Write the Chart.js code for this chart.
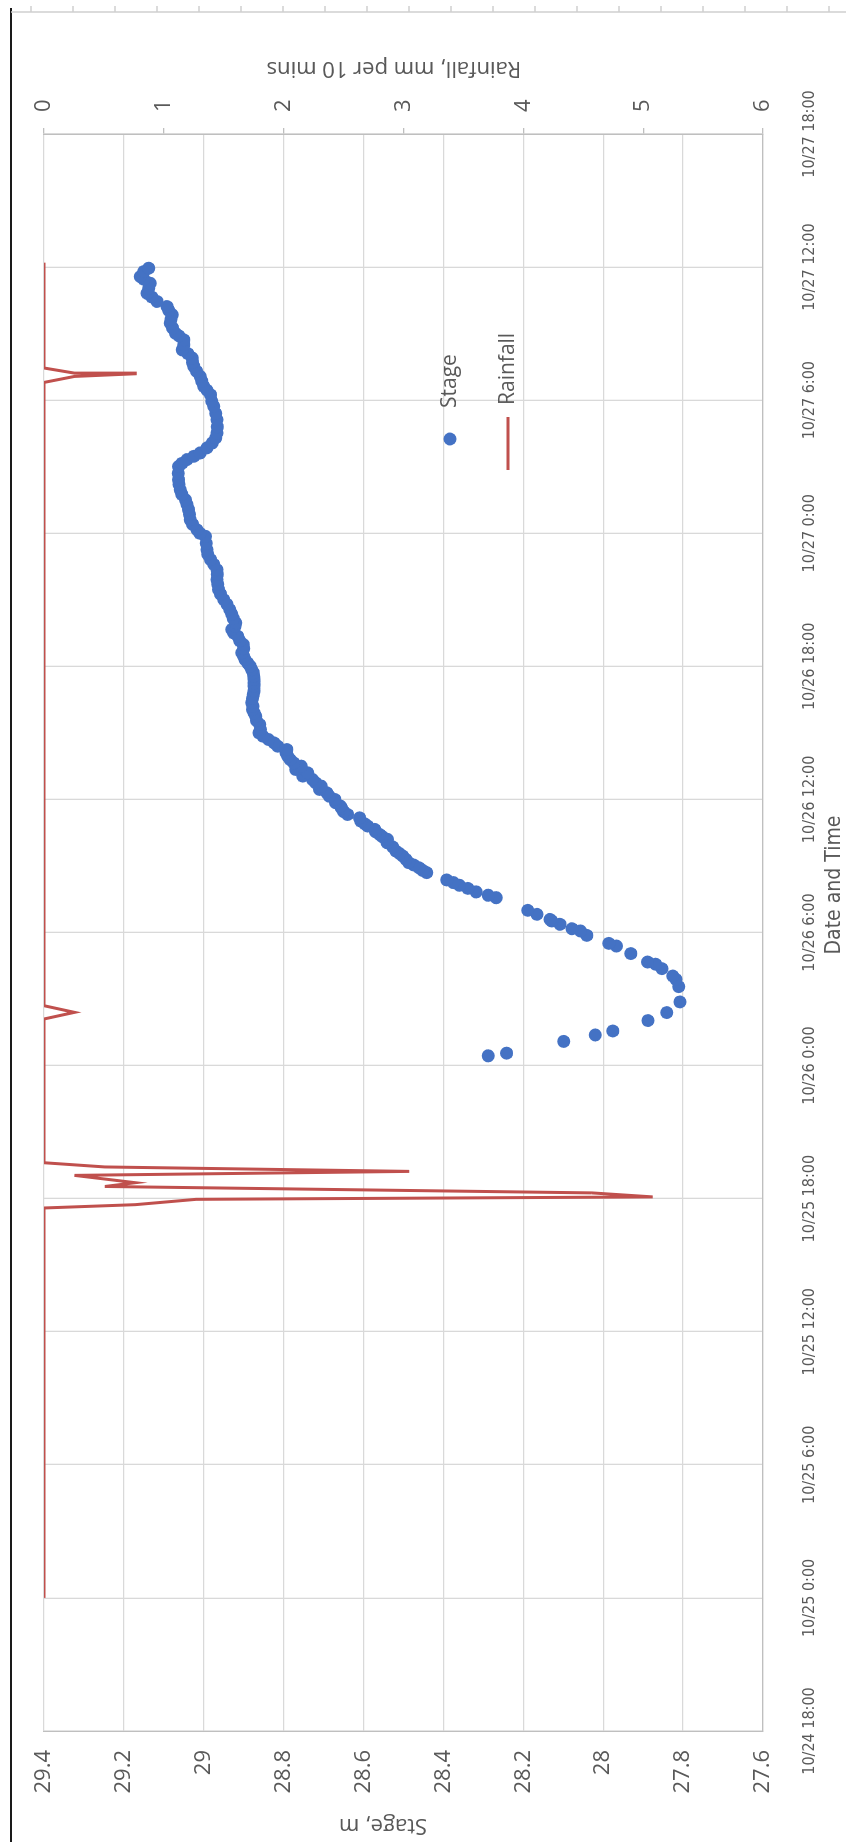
<!DOCTYPE html>
<html>
<head>
<meta charset="utf-8">
<title>Stage and Rainfall</title>
<script src="https://cdn.jsdelivr.net/npm/chart.js@4.4.1/dist/chart.umd.min.js"></script>
<style>
  html, body { margin: 0; padding: 0; background: #fff; }
  #page { position: relative; width: 846px; height: 1842px; overflow: hidden; background: #fff; }
  /* the chart is laid out landscape and turned a quarter turn to portrait */
  #turn { position: absolute; left: 0; top: 0; width: 1842px; height: 846px;
          transform-origin: 0 0; transform: translate(0, 1842px) rotate(-90deg); }
  canvas { display: block; }
</style>
</head>
<body>
<div id="page"><div id="turn"><canvas id="chart" width="1842" height="846"></canvas></div></div>
<script>
// Time axis labels, one every 6 hours
const dateTickLabels = ['10/24 18:00', '10/25 0:00', '10/25 6:00', '10/25 12:00', '10/25 18:00',
  '10/26 0:00', '10/26 6:00', '10/26 12:00', '10/26 18:00', '10/27 0:00', '10/27 6:00',
  '10/27 12:00', '10/27 18:00'];
const stageTickLabels = ['27.6', '27.8', '28', '28.2', '28.4', '28.6', '28.8', '29', '29.2', '29.4'];
const rainTickLabels = ['0', '1', '2', '3', '4', '5', '6'];

// Stage record: time in hours after 10/24 18:00, level in m
const stageTime = [30.44, 30.56, 31.09, 31.38, 31.56, 32.03, 32.39, 32.87, 33.56, 33.89, 34.04, 34.37,
  34.57, 34.67, 35.05, 35.39, 35.51, 35.87, 36.07, 36.17, 36.37, 36.52, 36.59, 36.82, 37.00, 37.57,
  37.68, 37.83, 37.99, 38.13, 38.25, 38.37, 38.70, 38.80, 38.92, 39.04, 39.15, 39.30, 39.45, 39.56,
  39.67, 39.86, 40.05, 40.20, 40.32, 40.42, 40.54, 40.65, 40.80, 40.90, 41.02, 41.17, 41.32, 41.45,
  41.60, 41.70, 41.85, 42.00, 42.15, 42.30, 42.45, 42.60, 42.75, 42.90, 43.05, 43.20, 43.35, 43.50,
  43.65, 43.80, 43.95, 44.10, 44.25, 44.40, 44.55, 44.70, 44.85, 45.00, 45.15, 45.38, 45.55, 45.75,
  45.90, 46.05, 46.20, 46.36, 46.55, 46.73, 46.90, 47.11, 47.25, 47.41, 47.55, 47.71, 47.85, 48.01,
  48.15, 48.31, 48.45, 48.61, 48.80, 48.98, 49.15, 49.36, 49.50, 49.66, 49.80, 49.96, 50.15, 50.35,
  50.56, 50.80, 51.01, 51.25, 51.46, 51.70, 51.91, 52.15, 52.36, 52.60, 52.81, 53.05, 53.26, 53.55,
  53.86, 54.00, 54.16, 54.40, 54.61, 54.85, 55.06, 55.30, 55.51, 55.75, 55.96, 56.20, 56.41, 56.70,
  57.01, 57.15, 57.32, 57.47, 57.62, 57.85, 58.07, 58.30, 58.52, 58.80, 59.12, 59.40, 59.72, 59.95,
  60.24, 60.45, 60.62, 60.85, 61.07, 61.30, 61.52, 61.70, 61.90, 62.10, 62.27, 62.50, 62.72, 62.90,
  63.02, 63.25, 63.47, 63.65, 63.85, 64.05, 64.22, 64.45, 64.65, 64.82, 65.05, 65.27, 65.45, 65.57,
  65.80, 65.95];
const stageLevel = [28.288, 28.242, 28.099, 28.020, 27.976, 27.888, 27.841, 27.808, 27.811, 27.818, 27.826, 27.853,
  27.869, 27.889, 27.931, 27.967, 27.986, 28.041, 28.057, 28.078, 28.108, 28.129, 28.133, 28.166, 28.189, 28.268,
  28.288, 28.318, 28.339, 28.360, 28.375, 28.392, 28.442, 28.452, 28.461, 28.474, 28.487, 28.494, 28.502, 28.510,
  28.519, 28.527, 28.541, 28.540, 28.553, 28.560, 28.570, 28.572, 28.590, 28.597, 28.607, 28.610, 28.640, 28.650,
  28.655, 28.658, 28.670, 28.672, 28.686, 28.692, 28.710, 28.706, 28.720, 28.728, 28.752, 28.740, 28.770, 28.756,
  28.775, 28.784, 28.790, 28.794, 28.792, 28.815, 28.824, 28.838, 28.852, 28.862, 28.858, 28.860, 28.868, 28.870,
  28.874, 28.878, 28.877, 28.880, 28.878, 28.876, 28.874, 28.874, 28.874, 28.874, 28.875, 28.876, 28.880, 28.884,
  28.890, 28.897, 28.900, 28.905, 28.900, 28.901, 28.910, 28.915, 28.925, 28.930, 28.922, 28.920, 28.926, 28.930,
  28.935, 28.942, 28.950, 28.958, 28.963, 28.965, 28.967, 28.966, 28.967, 28.975, 28.983, 28.990, 28.992, 28.994,
  28.996, 29.010, 29.017, 29.028, 29.034, 29.036, 29.038, 29.042, 29.046, 29.055, 29.059, 29.062, 29.063, 29.064,
  29.063, 29.055, 29.042, 29.025, 29.009, 28.992, 28.979, 28.970, 28.967, 28.966, 28.967, 28.970, 28.975, 28.980,
  28.983, 28.992, 29.000, 29.005, 29.009, 29.018, 29.025, 29.028, 29.029, 29.040, 29.054, 29.050, 29.050, 29.062,
  29.071, 29.078, 29.084, 29.082, 29.079, 29.088, 29.092, 29.117, 29.130, 29.142, 29.138, 29.134, 29.150, 29.159,
  29.150, 29.138];

// Rain gauge record: time in hours after 10/24 18:00, depth in mm per 10 minutes
const rainTime = [6.00, 23.58, 23.73, 23.97, 24.08, 24.26, 24.55, 24.72, 25.05, 25.23, 25.43, 25.62,
  32.10, 32.40, 32.70, 60.80, 61.07, 61.19, 61.22, 61.45, 66.20];
const rainDepth = [0, 0, 0.762, 1.27, 5.08, 4.572, 0.508, 0.762, 0.254, 3.048, 0.508, 0,
  0, 0.254, 0, 0, 0.254, 0.762, 0.254, 0, 0];

const STAGE_COLOR = '#4472C4';
const RAIN_COLOR = '#C0504D';
const TEXT_COLOR = '#595959';
const GRID_COLOR = '#d9d9d9';
const AXIS_COLOR = '#bfbfbf';
const SANS = "'Open Sans', 'Liberation Sans', sans-serif";
const NARROW = "'Liberation Sans Narrow', 'DejaVu Sans Condensed', sans-serif";

const stagePoints = stageTime.map((t, i) => ({ x: t, y: stageLevel[i] }));
const rainPoints = rainTime.map((t, i) => ({ x: t, y: rainDepth[i] }));

// Axis titles, legend and the sheet edges around the chart
const chartDecor = {
  id: 'chartDecor',
  beforeDraw(chart) {
    const ctx = chart.ctx;
    ctx.save();
    ctx.fillStyle = '#ffffff';
    ctx.fillRect(0, 0, chart.width, chart.height);
    ctx.restore();
  },
  afterDraw(chart) {
    const ctx = chart.ctx;
    ctx.save();

    // sheet edges
    ctx.strokeStyle = '#1a1a1a';
    ctx.lineWidth = 2;
    ctx.beginPath(); ctx.moveTo(0, 11); ctx.lineTo(1834, 11); ctx.stroke();
    ctx.strokeStyle = '#cfcfcf';
    ctx.lineWidth = 1.5;
    ctx.beginPath(); ctx.moveTo(1830, 11); ctx.lineTo(1830, 846); ctx.stroke();
    for (let y = 31; y < 846; y += 42) {
      ctx.beginPath(); ctx.moveTo(1830, y); ctx.lineTo(1836, y); ctx.stroke();
    }

    // axis titles
    ctx.fillStyle = TEXT_COLOR;
    ctx.textAlign = 'center';
    ctx.textBaseline = 'middle';
    ctx.font = `22px ${SANS}`;
    ctx.save(); ctx.translate(17, 383); ctx.rotate(-Math.PI / 2);
    ctx.fillText('Stage, m', 0, 0); ctx.restore();
    ctx.save(); ctx.translate(1774, 394); ctx.rotate(-Math.PI / 2);
    ctx.fillText('Rainfall, mm per 10 mins', 0, 0); ctx.restore();
    ctx.font = `21px ${NARROW}`;
    ctx.fillText('Date and Time', 957, 835);

    // legend
    const ds = chart.data.datasets;
    ctx.fillStyle = STAGE_COLOR;
    ctx.beginPath(); ctx.arc(1403, 450, 6.5, 0, Math.PI * 2); ctx.fill();
    ctx.strokeStyle = RAIN_COLOR;
    ctx.lineWidth = 3;
    ctx.beginPath(); ctx.moveTo(1372, 508); ctx.lineTo(1425, 508); ctx.stroke();
    ctx.fillStyle = TEXT_COLOR;
    ctx.textAlign = 'left';
    ctx.font = `21px ${SANS}`;
    ctx.fillText(ds[0].label, 1434, 450);
    ctx.fillText(ds[1].label, 1437, 508);

    ctx.restore();
  }
};

new Chart(document.getElementById('chart'), {
  type: 'scatter',
  data: {
    datasets: [
      {
        label: 'Stage',
        data: stagePoints,
        yAxisID: 'yStage',
        pointRadius: 6.5,
        pointHoverRadius: 6.5,
        pointBackgroundColor: STAGE_COLOR,
        pointBorderColor: STAGE_COLOR,
        pointBorderWidth: 0,
        showLine: false,
        order: 1
      },
      {
        label: 'Rainfall',
        data: rainPoints,
        yAxisID: 'yRain',
        showLine: true,
        borderColor: RAIN_COLOR,
        borderWidth: 3,
        pointRadius: 0,
        pointHoverRadius: 0,
        tension: 0,
        fill: false,
        order: 2
      }
    ]
  },
  options: {
    responsive: false,
    animation: false,
    devicePixelRatio: 1,
    layout: { padding: { top: 44, left: 0, right: 0, bottom: 0 } },
    plugins: { legend: { display: false }, tooltip: { enabled: false } },
    scales: {
      x: {
        type: 'linear',
        position: 'bottom',
        min: 0,
        max: 72,
        afterFit(scale) { scale.height = 83; },
        afterBuildTicks(scale) { scale.ticks = dateTickLabels.map((_, i) => ({ value: i * 6 })); },
        ticks: {
          autoSkip: false, maxRotation: 0, minRotation: 0, padding: 37,
          color: TEXT_COLOR, font: { family: NARROW, size: 16 },
          callback: (v) => dateTickLabels[Math.round(v / 6)]
        },
        grid: { color: GRID_COLOR, lineWidth: 1.3, drawTicks: false },
        border: { display: true, color: AXIS_COLOR, width: 1.3 }
      },
      yStage: {
        type: 'linear',
        position: 'left',
        min: 27.6,
        max: 29.4,
        afterFit(scale) { scale.width = 111; },
        afterBuildTicks(scale) { scale.ticks = stageTickLabels.map((s) => ({ value: parseFloat(s) })); },
        ticks: {
          padding: 19, color: TEXT_COLOR, font: { family: SANS, size: 22 },
          callback: (v) => stageTickLabels.find((s) => Math.abs(parseFloat(s) - v) < 1e-6) || ''
        },
        grid: { color: GRID_COLOR, lineWidth: 1.3, drawTicks: false },
        border: { display: true, color: AXIS_COLOR, width: 1.3 }
      },
      yRain: {
        type: 'linear',
        position: 'right',
        min: 0,
        max: 6,
        reverse: true,
        afterFit(scale) { scale.width = 134; },
        afterBuildTicks(scale) { scale.ticks = rainTickLabels.map((s) => ({ value: parseFloat(s) })); },
        ticks: {
          padding: 16, color: TEXT_COLOR, font: { family: SANS, size: 22 },
          callback: (v) => rainTickLabels[Math.round(v)]
        },
        grid: { drawOnChartArea: false, drawTicks: true, tickLength: 6, color: AXIS_COLOR, lineWidth: 1.3 },
        border: { display: true, color: AXIS_COLOR, width: 1.5 }
      }
    }
  },
  plugins: [chartDecor]
});
</script>
</body>
</html>
